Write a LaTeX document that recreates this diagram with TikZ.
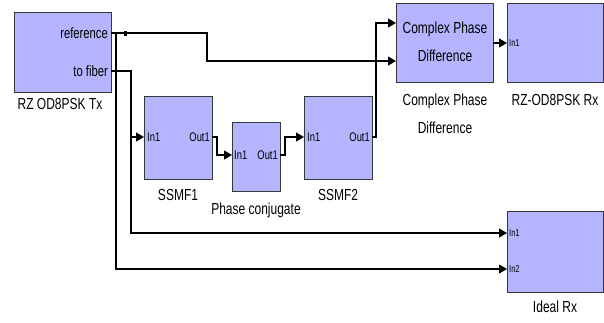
\documentclass[tikz,border=0pt]{standalone}
\usepackage{fontspec}
\setmainfont{Liberation Sans}[FakeStretch=0.75]
\usetikzlibrary{arrows.meta}
\definecolor{blockfill}{RGB}{180,180,255}
\definecolor{blockedge}{RGB}{55,55,55}
\begin{document}
\begin{tikzpicture}[x=1pt,y=-1pt,
  block/.style={draw=blockedge, fill=blockfill, line width=1.4pt, inner sep=0pt, anchor=north west},
  wire/.style={line width=1.1pt, black},
  arr/.style={-{Triangle[length=8pt,width=9pt]}},
  lbl/.style={font=\fontsize{16}{28}\selectfont, inner sep=0pt, align=center},
  tport/.style={font=\fontsize{15}{16}\selectfont, inner sep=0pt},
  port/.style={font=\fontsize{12.5}{13}\selectfont, inner sep=0pt},
  sport/.style={font=\fontsize{10}{11}\selectfont, inner sep=0pt},
  dot/.style={fill=black, inner sep=0pt, minimum width=3pt, minimum height=5pt}]
\useasboundingbox (0,0) rectangle (604,322);
% blocks
\node[block, minimum width=97pt, minimum height=80pt] (tx) at (14,12) {};
\node[block, minimum width=68pt, minimum height=83pt] (s1) at (144,96) {};
\node[block, minimum width=48pt, minimum height=69pt] (pc) at (232,122) {};
\node[block, minimum width=68pt, minimum height=83pt] (s2) at (304,96) {};
\node[block, minimum width=97pt, minimum height=79pt] (cpd) at (396,3) {};
\node[block, minimum width=96pt, minimum height=79pt] (rx) at (507,3) {};
\node[block, minimum width=96pt, minimum height=81pt] (ir) at (507,211) {};
% block labels
\node[lbl] (txl) at (60,104) {RZ OD8PSK Tx};
\node[lbl] (s1l) at (178,195) {SSMF1};
\node[lbl] (pcl) at (256,210) {Phase conjugate};
\node[lbl] (s2l) at (338,195) {SSMF2};
\node[lbl] (cpdt) at (445,42) {Complex Phase\\Difference};
\node[lbl] (cpdl) at (445,114) {Complex Phase\\Difference};
\node[lbl] (rxl) at (555,100) {RZ-OD8PSK Rx};
\node[lbl] (irl) at (555,307) {Ideal Rx};
% port labels
\node[tport, anchor=east] (tref) at (108,33) {reference};
\node[tport, anchor=east] (tfib) at (108,71) {to fiber};
\node[port, anchor=west] (s1i) at (147,137) {In1};
\node[port, anchor=east] (s1o) at (210,137) {Out1};
\node[port, anchor=west] (pci) at (234,155) {In1};
\node[port, anchor=east] (pco) at (278,155) {Out1};
\node[port, anchor=west] (s2i) at (307,137) {In1};
\node[port, anchor=east] (s2o) at (370,137) {Out1};
\node[sport, anchor=west] (rxi) at (509,43) {In1};
\node[sport, anchor=west] (iri1) at (509,233) {In1};
\node[sport, anchor=west] (iri2) at (509,269) {In2};
% port coordinates
\coordinate (txref) at (111,33);
\coordinate (txfib) at (111,71);
\coordinate (jref) at (116,33);
\coordinate (jfib) at (131,137);
\coordinate (s1in) at (144,137);
\coordinate (s1out) at (212,137);
\coordinate (pcin) at (232,155);
\coordinate (pcout) at (280,155);
\coordinate (s2in) at (304,137);
\coordinate (s2out) at (372,137);
\coordinate (cpdin1) at (396,23);
\coordinate (cpdin2) at (396,61);
\coordinate (cpdout) at (493,43);
\coordinate (rxin) at (507,43);
\coordinate (irin1) at (507,233);
\coordinate (irin2) at (507,269);
% connectors
\draw[wire] (txref) -- (jref);
\draw[wire, arr] (jref) -- ++(91,0) |- (cpdin2);
\draw[wire, arr] (jref) |- (irin2);
\draw[wire] (txfib) -| (jfib);
\draw[wire, arr] (jfib) |- (irin1);
\draw[wire, arr] (jfib) -- (s1in);
\draw[wire, arr] (s1out) -- ++(5,0) |- (pcin);
\draw[wire, arr] (pcout) -- ++(5,0) |- (s2in);
\draw[wire, arr] (s2out) -- ++(4,0) |- (cpdin1);
\draw[wire, arr] (cpdout) -- (rxin);
\node[dot] (d1) at (125,33) {};
\end{tikzpicture}
\end{document}
